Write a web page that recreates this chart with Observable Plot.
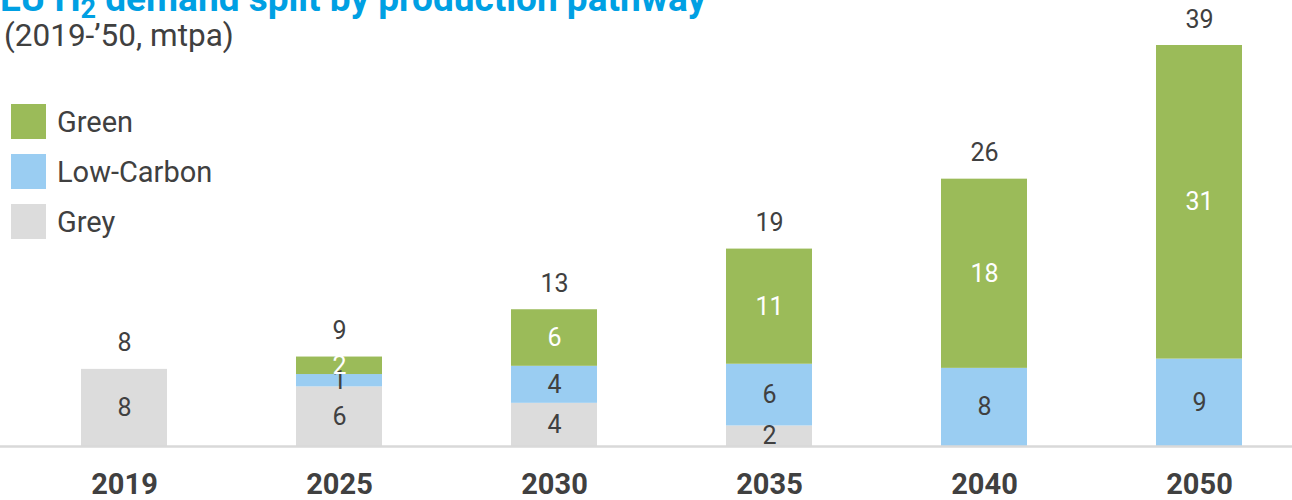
<!DOCTYPE html>
<html><head><meta charset="utf-8">
<script src="https://cdn.jsdelivr.net/npm/d3@7"></script>
<script src="https://cdn.jsdelivr.net/npm/@observablehq/plot@0.6"></script>
<style>
body{margin:0;background:#fff;font-family:Roboto,sans-serif;}
#wrap{position:relative;width:1292px;height:500px;overflow:hidden;}
#title{position:absolute;left:0;top:-21px;font-size:37px;font-weight:700;color:#00a0e3;white-space:nowrap;line-height:40px;}
#title sub{font-size:27px;vertical-align:-7px;line-height:0;}
#sub{position:absolute;left:4px;top:19px;font-size:31.5px;color:#404040;line-height:34px;}
#legend{position:absolute;left:11px;top:104px;}
.item{display:flex;align-items:center;height:35px;margin-bottom:15px;font-size:29px;color:#404040;}
.sw{width:35px;height:35px;margin-right:11px;}
#chart{position:absolute;left:0;top:0;}
</style></head>
<body>
<div id="wrap">
<div id="chart"></div>
<div id="title">EU H<sub>2</sub> demand split by production pathway</div>
<div id="sub">(2019-’50, mtpa)</div>
<div id="legend"></div>
</div>
<script>
const years = ["2019","2025","2030","2035","2040","2050"];
const series = ["Grey","Low-Carbon","Green"];
const colors = ["#dcdcdc","#9acdf2","#9bbb59"];
const labelColors = ["#404040","#404040","#ffffff"];
const grey = [7.5, 5.8, 4.2, 2.0, 0, 0];
const lowCarbon = [0, 1.2, 3.6, 6.0, 7.6, 8.5];
const green = [0, 1.7, 5.5, 11.2, 18.4, 30.5];

const values = [grey, lowCarbon, green];
const data = [];
series.forEach((s, i) => years.forEach((y, j) => data.push({year: y, series: s, value: values[i][j]})));
const totals = years.map((y, j) => ({year: y, total: grey[j] + lowCarbon[j] + green[j]}));

const chart = Plot.plot({
  width: 1292,
  height: 500,
  marginTop: 0, marginBottom: 54, marginLeft: 0, marginRight: 0,
  style: {fontFamily: "Roboto, sans-serif", color: "#404040", background: "transparent"},
  x: {domain: years, range: [16.5, 1306.5], paddingInner: 0.6, paddingOuter: 0.3, align: 0.5, label: null},
  y: {domain: [0, 39], range: [446, 45], axis: null},
  color: {domain: series, range: colors},
  marks: [
    Plot.barY(data, {x: "year", y: "value", fill: "series", z: "series"}),
    Plot.ruleY([0], {stroke: "#d9d9d9", strokeWidth: 2.5}),
    Plot.text(data, Plot.stackY({
      x: "year", y: "value", z: "series",
      text: d => d.value > 0 ? String(Math.round(d.value)) : "",
      fill: d => labelColors[series.indexOf(d.series)],
      fontSize: 25
    })),
    Plot.text(totals, {x: "year", y: "total", text: d => String(Math.round(d.total)), dy: -26, fontSize: 25, fill: "#404040"}),
    Plot.axisX({tickSize: 0, tickPadding: 27, fontSize: 29, fontWeight: "bold", fill: "#404040", label: null})
  ]
});
document.getElementById("chart").appendChild(chart);

const legend = document.getElementById("legend");
series.slice().reverse().forEach(s => {
  const item = document.createElement("div");
  item.className = "item";
  const sw = document.createElement("div");
  sw.className = "sw";
  sw.style.background = colors[series.indexOf(s)];
  const lab = document.createElement("span");
  lab.textContent = s;
  item.appendChild(sw); item.appendChild(lab);
  legend.appendChild(item);
});
</script>
</body></html>
